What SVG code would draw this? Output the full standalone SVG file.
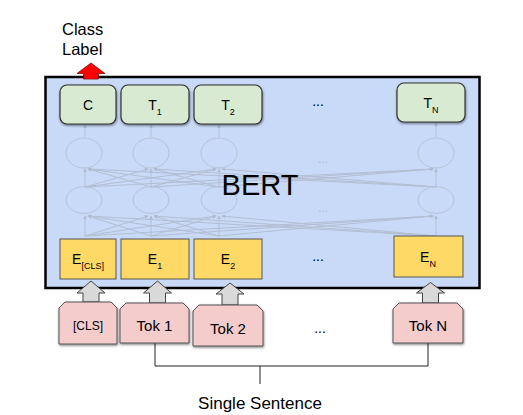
<svg xmlns="http://www.w3.org/2000/svg" width="523" height="415" viewBox="0 0 523 415">
<defs>
<filter id="sh" x="-10%" y="-10%" width="130%" height="140%">
<feDropShadow dx="0.5" dy="1.2" stdDeviation="0.8" flood-color="#000" flood-opacity="0.5"/>
</filter>
<marker id="ah" viewBox="0 0 6 6" refX="5" refY="3" markerWidth="4" markerHeight="4" orient="auto">
<path d="M0,0 L6,3 L0,6 z" fill="#b0bccf"/>
</marker>
<style>
text{font-family:"Liberation Sans",Arial,sans-serif;fill:#000}
.g{fill:#d9ead3;stroke:#333;stroke-width:1.2}
.y{fill:#ffd966;stroke:#555;stroke-width:1}
.p{fill:#f4cccc;stroke:#555;stroke-width:1}
.ba{fill:#d9d9d9;stroke:#444;stroke-width:1}
.nl{stroke:#b3bed2;stroke-width:1;fill:none}
.nc{stroke:#b7c2d5;stroke-width:1;fill:none}
.lbl{font-size:14px;text-anchor:middle}
.sub{font-size:9px}
.dots{font-size:14px;text-anchor:middle}
.ln{stroke:#222;stroke-width:1;fill:none}
</style>
</defs>

<rect id="bert-box" x="45.5" y="77" width="434" height="211" fill="#c9daf8" stroke="#000" stroke-width="2.5"/>

<g id="network">
<g class="nl" marker-end="url(#ah)">
<line x1="85" y1="236" x2="85" y2="216"/>
<line x1="151" y1="236" x2="151" y2="216"/>
<line x1="219" y1="236" x2="219" y2="216"/>
<line x1="436" y1="236" x2="436" y2="216"/>
<line x1="151" y1="236" x2="88" y2="216"/>
<line x1="219" y1="236" x2="88" y2="216"/>
<line x1="436" y1="236" x2="88" y2="216"/>
<line x1="85" y1="236" x2="148" y2="216"/>
<line x1="219" y1="236" x2="154" y2="216"/>
<line x1="436" y1="236" x2="154" y2="216"/>
<line x1="85" y1="236" x2="216" y2="216"/>
<line x1="151" y1="236" x2="216" y2="216"/>
<line x1="436" y1="236" x2="222" y2="216"/>
<line x1="85" y1="236" x2="433" y2="216"/>
<line x1="151" y1="236" x2="433" y2="216"/>
<line x1="219" y1="236" x2="433" y2="216"/>
<line x1="85" y1="187" x2="85" y2="169"/>
<line x1="151" y1="187" x2="151" y2="169"/>
<line x1="219" y1="187" x2="219" y2="169"/>
<line x1="436" y1="187" x2="436" y2="169"/>
<line x1="151" y1="187" x2="88" y2="169"/>
<line x1="219" y1="187" x2="88" y2="169"/>
<line x1="436" y1="187" x2="88" y2="169"/>
<line x1="85" y1="187" x2="148" y2="169"/>
<line x1="219" y1="187" x2="154" y2="169"/>
<line x1="436" y1="187" x2="154" y2="169"/>
<line x1="85" y1="187" x2="216" y2="169"/>
<line x1="151" y1="187" x2="216" y2="169"/>
<line x1="436" y1="187" x2="222" y2="169"/>
<line x1="85" y1="187" x2="433" y2="169"/>
<line x1="151" y1="187" x2="433" y2="169"/>
<line x1="219" y1="187" x2="433" y2="169"/>
<line x1="85" y1="137" x2="85" y2="125"/>
<line x1="151" y1="137" x2="151" y2="125"/>
<line x1="219" y1="137" x2="219" y2="125"/>
<line x1="436" y1="137" x2="436" y2="123"/>
</g>
<g class="nc">
<ellipse cx="84" cy="153" rx="18" ry="15"/>
<ellipse cx="151" cy="153" rx="18" ry="15"/>
<ellipse cx="219" cy="153" rx="18" ry="15"/>
<ellipse cx="436" cy="153" rx="18" ry="15"/>
<ellipse cx="84" cy="200" rx="18" ry="13.5"/>
<ellipse cx="151" cy="200" rx="18" ry="13.5"/>
<ellipse cx="219" cy="200" rx="18" ry="13.5"/>
<ellipse cx="436" cy="200" rx="18" ry="13.5"/>
</g>
<text x="323" y="163" font-size="12" text-anchor="middle" style="fill:#b0bccf">...</text>
<text x="323" y="212" font-size="12" text-anchor="middle" style="fill:#b0bccf">...</text>
</g>

<text id="bert-label" x="260" y="195" font-size="29" text-anchor="middle">BERT</text>

<g id="class-label">
<text x="62" y="35" font-size="16.5">Class</text>
<text x="62" y="55" font-size="16.5">Label</text>
<polygon points="91,63 105,73.5 98.5,73.5 98.5,79 83.5,79 83.5,73.5 77,73.5" fill="#ff0000" stroke="#880000" stroke-width="0.8"/>
</g>

<g id="out-C"><rect class="g" x="60" y="85" width="56" height="39" rx="7" filter="url(#sh)"/><text class="lbl" x="88" y="110">C</text></g>
<g id="out-T1"><rect class="g" x="121" y="85" width="68" height="39" rx="7" filter="url(#sh)"/><text class="lbl" x="155" y="110">T<tspan class="sub" dy="5">1</tspan></text></g>
<g id="out-T2"><rect class="g" x="194" y="85" width="68" height="39" rx="7" filter="url(#sh)"/><text class="lbl" x="228" y="110">T<tspan class="sub" dy="5">2</tspan></text></g>
<text class="dots" x="318" y="106">...</text>
<g id="out-TN"><rect class="g" x="397" y="83" width="68" height="39" rx="7" filter="url(#sh)"/><text class="lbl" x="431" y="108">T<tspan class="sub" dy="5">N</tspan></text></g>

<g id="emb-CLS"><rect class="y" x="60" y="239" width="56" height="40"/><text class="lbl" x="88" y="264">E<tspan class="sub" dy="5">[CLS]</tspan></text></g>
<g id="emb-E1"><rect class="y" x="121" y="239" width="68" height="40"/><text class="lbl" x="155" y="264">E<tspan class="sub" dy="5">1</tspan></text></g>
<g id="emb-E2"><rect class="y" x="194" y="239" width="68" height="40"/><text class="lbl" x="228" y="264">E<tspan class="sub" dy="5">2</tspan></text></g>
<text class="dots" x="318" y="261">...</text>
<g id="emb-EN"><rect class="y" x="394" y="236" width="69" height="41"/><text class="lbl" x="428" y="262">E<tspan class="sub" dy="5">N</tspan></text></g>

<g id="connectors">
<polygon class="ba" points="91,281 105,293 99,293 99,302 83,302 83,293 77,293"/>
<polygon class="ba" points="157.5,281 171.5,293 165.5,293 165.5,303 149.5,303 149.5,293 143.5,293"/>
<polygon class="ba" points="230,283 244,294 238,294 238,305 222,305 222,294 216,294"/>
<polygon class="ba" points="430.5,282.5 444.5,293 438.5,293 438.5,303 422.5,303 422.5,293 416.5,293"/>
<polyline class="ln" points="155,343 155,366 428,366 428,343"/>
<line class="ln" x1="260" y1="366" x2="260" y2="384"/>
</g>

<g id="tok-CLS"><path class="p" d="M59,308 L65,302 L111,302 L117,308 L117,344 L59,344 Z" filter="url(#sh)"/><text x="88" y="330" font-size="12" text-anchor="middle">[CLS]</text></g>
<g id="tok-1"><path class="p" d="M120,309 L126,303 L183,303 L189,309 L189,343 L120,343 Z" filter="url(#sh)"/><text x="154.5" y="331" font-size="15" text-anchor="middle">Tok 1</text></g>
<g id="tok-2"><path class="p" d="M193,311 L199,305 L257,305 L263,311 L263,346 L193,346 Z" filter="url(#sh)"/><text x="228" y="334" font-size="15" text-anchor="middle">Tok 2</text></g>
<text class="dots" x="320" y="333">...</text>
<g id="tok-N"><path class="p" d="M393,309 L399,303 L457,303 L463,309 L463,343 L393,343 Z" filter="url(#sh)"/><text x="428" y="331" font-size="15" text-anchor="middle">Tok N</text></g>

<text id="single-sentence" x="260" y="409" font-size="17" text-anchor="middle">Single Sentence</text>
</svg>
